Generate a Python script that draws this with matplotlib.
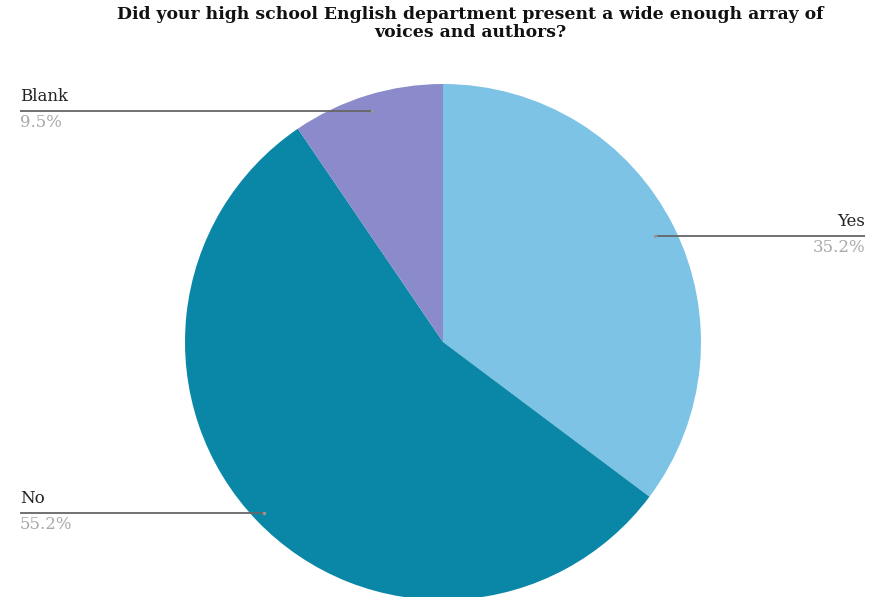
import numpy as np
import matplotlib
matplotlib.use("Agg")
import matplotlib.pyplot as plt

labels = ["Yes", "No", "Blank"]
values = [35.2, 55.2, 9.5]
pct_labels = ["35.2%", "55.2%", "9.5%"]
colors = ["#7dc3e6", "#0a87a7", "#8b8acb"]
title = "Did your high school English department present a wide enough array of\nvoices and authors?"

W, H = 869, 597
fig = plt.figure(figsize=(W / 100, H / 100), dpi=100)
ax = fig.add_axes([0, 0, 1, 1])
ax.set_xlim(0, W)
ax.set_ylim(0, H)
ax.set_aspect("equal")
ax.axis("off")

cx, cy, R = 443, H - 342, 258
wedges, _ = ax.pie(values, colors=colors, startangle=90, counterclock=False,
                   center=(cx, cy), radius=R, wedgeprops=dict(linewidth=0),
                   normalize=True)
ax.set_xlim(0, W)
ax.set_ylim(0, H)

serif = ["DejaVu Serif"]
# label placement: (side, leader radius fraction)
place = {"Yes": ("right", 0.92), "No": ("left", 0.96), "Blank": ("left", 0.935)}
for w, lab, pct in zip(wedges, labels, pct_labels):
    ang = np.deg2rad((w.theta1 + w.theta2) / 2)
    side, frac = place[lab]
    ax_ = cx + frac * R * np.cos(ang)
    ay_ = cy + frac * R * np.sin(ang)
    if side == "left":
        x_end = 20
        ha = "left"
    else:
        x_end = 865
        ha = "right"
    ax.plot([ax_, x_end], [ay_, ay_], color="#666666", lw=1.3, solid_capstyle="butt")
    ax.plot([ax_], [ay_], marker="o", ms=2.5, color="#999999", mec="none")
    ax.text(x_end, ay_ + 6, lab, ha=ha, va="bottom", fontsize=12,
            family=serif, color="#222222")
    ax.text(x_end, ay_ - 3, pct, ha=ha, va="top", fontsize=12,
            family=serif, color="#aaaaaa")

fig.text(470 / W, 1 - 6 / H, title, ha="center", va="top", fontsize=12.4,
         fontweight="bold", family=serif, color="#111111", linespacing=1.05)

fig.savefig("out.png", dpi=100, facecolor="white")
